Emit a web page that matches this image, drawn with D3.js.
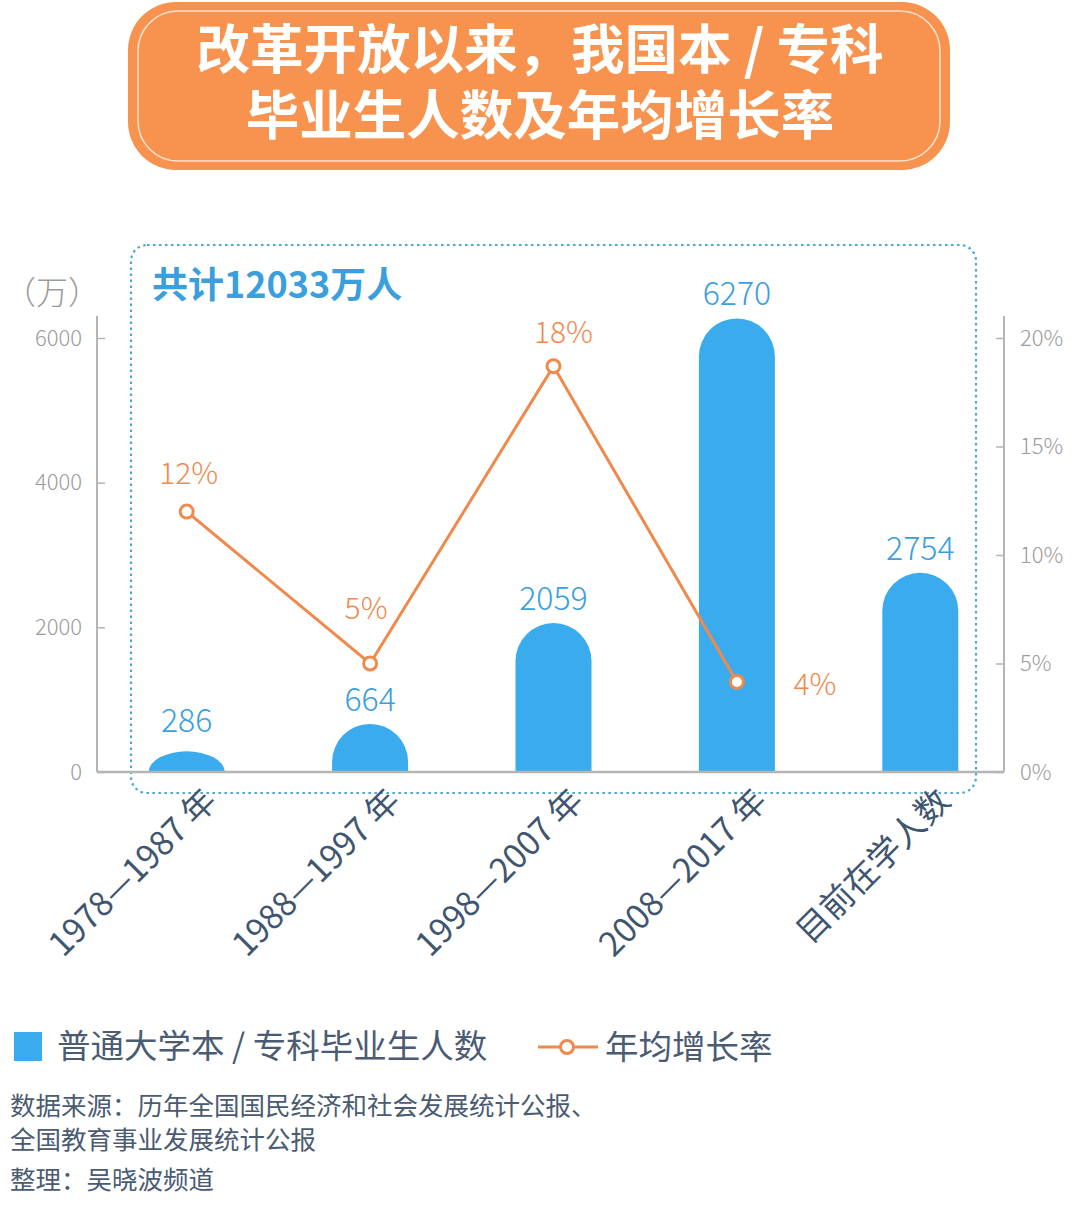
<!DOCTYPE html>
<html>
<head>
<meta charset="utf-8">
<script src="https://cdn.jsdelivr.net/npm/d3@7/dist/d3.min.js"></script>
<style>
  html, body { margin: 0; padding: 0; background: #ffffff; }
  svg { display: block; font-family: "Noto Sans CJK SC", "Noto Sans", sans-serif; }
</style>
</head>
<body>
<svg id="chart" width="1080" height="1206"></svg>
<script>
// ---- data ----
const categories = ["1978—1987 年", "1988—1997 年", "1998—2007 年", "2008—2017 年", "目前在学人数"];
const graduates = [286, 664, 2059, 6270, 2754];          // 万人
const growthRates = [12, 5, 18.7, 4.15];                  // % (plotted positions)
const growthLabels = ["12%", "5%", "18%", "4%"];
const leftTicks = [0, 2000, 4000, 6000];
const rightTicks = [0, 5, 10, 15, 20];
const titleLines = ["改革开放以来，我国本 / 专科", "毕业生人数及年均增长率"];
const totalLabel = "共计12033万人";
const unitLabel = "（万）";
const legendItems = ["普通大学本 / 专科毕业生人数", "年均增长率"];
const sourceLines = ["数据来源：历年全国国民经济和社会发展统计公报、", "全国教育事业发展统计公报", "整理：吴晓波频道"];

// ---- styles ----
const BLUE = "#3aacee";
const BLUE_TEXT = "#3a9fdc";
const ORANGE = "#f08a4c";
const GREY = "#b5b5b5";
const GREY_TEXT = "#9b9b9b";
const DARK = "#3f5670";

const svg = d3.select("#chart");

// ---- title box ----
const tg = svg.append("g");
tg.append("rect").attr("x", 128).attr("y", 2).attr("width", 822).attr("height", 168)
  .attr("rx", 48).attr("fill", "#f7934f");
tg.append("rect").attr("x", 138).attr("y", 11).attr("width", 802).attr("height", 150)
  .attr("rx", 40).attr("fill", "none").attr("stroke", "#fde3cf").attr("stroke-width", 1.5);
const titleText = tg.append("text")
  .attr("text-anchor", "middle")
  .attr("fill", "#ffffff").attr("font-size", 53.5).attr("font-weight", 700);
titleText.selectAll("tspan").data(titleLines).join("tspan")
  .attr("x", 540).attr("y", (d, i) => 69 + i * 66)
  .text(d => d);

// ---- scales ----
const y0 = 772, yTop = 338;
const x = d3.scalePoint().domain(categories).range([95, 1012]).padding(0.5);
const yL = d3.scaleLinear().domain([0, 6000]).range([y0, yTop]);
const yR = d3.scaleLinear().domain([0, 20]).range([y0, yTop]);
const barW = 76;

// ---- dotted frame ----
svg.append("rect").attr("x", 131).attr("y", 245).attr("width", 845).attr("height", 548)
  .attr("rx", 16).attr("fill", "none").attr("stroke", "#4ba6d8")
  .attr("stroke-width", 2.2).attr("stroke-dasharray", "2.5,3.5");

// ---- axes ----
const axL = svg.append("g").attr("transform", "translate(97,0)")
  .call(d3.axisRight(yL).tickValues(leftTicks).tickSize(8).tickFormat(d3.format("d")));
axL.select(".domain").remove();
axL.selectAll(".tick line").attr("stroke", GREY).attr("stroke-width", 1.5);
axL.selectAll(".tick text").attr("x", -15).attr("text-anchor", "end")
  .attr("fill", GREY_TEXT).attr("font-size", 22).attr("font-weight", 300)
  .attr("font-family", "'Noto Sans CJK SC', sans-serif");
svg.append("line").attr("x1", 97).attr("x2", 97).attr("y1", 316).attr("y2", y0)
  .attr("stroke", GREY).attr("stroke-width", 2);

const axR = svg.append("g").attr("transform", "translate(1004,0)")
  .call(d3.axisLeft(yR).tickValues(rightTicks).tickSize(8).tickFormat(d => d + "%"));
axR.select(".domain").remove();
axR.selectAll(".tick line").attr("stroke", GREY).attr("stroke-width", 1.5);
axR.selectAll(".tick text").attr("x", 16).attr("text-anchor", "start")
  .attr("fill", GREY_TEXT).attr("font-size", 22).attr("font-weight", 300)
  .attr("font-family", "'Noto Sans CJK SC', sans-serif");
svg.append("line").attr("x1", 1004).attr("x2", 1004).attr("y1", 316).attr("y2", y0)
  .attr("stroke", GREY).attr("stroke-width", 2);

// ---- bars ----
function barPath(cx, v) {
  const x0 = cx - barW / 2, x1 = cx + barW / 2, r = barW / 2;
  const top = yL(v), h = y0 - top;
  if (h <= r) {
    return `M${x0},${y0} A${r},${h} 0 0 1 ${x1},${y0} Z`;
  }
  return `M${x0},${y0} L${x0},${top + r} A${r},${r} 0 0 1 ${x1},${top + r} L${x1},${y0} Z`;
}
svg.append("g").selectAll("path").data(graduates).join("path")
  .attr("d", (d, i) => barPath(x(categories[i]), d))
  .attr("fill", BLUE);

// baseline
svg.append("line").attr("x1", 97).attr("x2", 1004).attr("y1", y0).attr("y2", y0)
  .attr("stroke", GREY).attr("stroke-width", 2.5);

// bar value labels
svg.append("g").selectAll("text").data(graduates).join("text")
  .attr("x", (d, i) => x(categories[i]))
  .attr("y", d => Math.min(yL(d), y0 - 27) - 13)
  .attr("text-anchor", "middle").attr("fill", BLUE_TEXT)
  .attr("font-size", 32).attr("font-weight", 300)
  .attr("font-family", "'Noto Sans CJK SC', sans-serif")
  .text(d => d);

// "万" unit and total label
svg.append("text").attr("x", 4).attr("y", 304).attr("fill", GREY_TEXT)
  .attr("font-size", 32).attr("font-weight", 300).text(unitLabel);
svg.append("text").attr("x", 152).attr("y", 298).attr("fill", BLUE_TEXT)
  .attr("font-size", 36).attr("font-weight", 700).text(totalLabel);

// ---- growth line ----
const lineData = growthRates.map((v, i) => ({ cx: x(categories[i]), v, label: growthLabels[i] }));
svg.append("path").datum(lineData)
  .attr("d", d3.line().x(d => d.cx).y(d => yR(d.v)))
  .attr("fill", "none").attr("stroke", ORANGE).attr("stroke-width", 3);
svg.append("g").selectAll("circle").data(lineData).join("circle")
  .attr("cx", d => d.cx).attr("cy", d => yR(d.v)).attr("r", 6.5)
  .attr("fill", "#ffffff").attr("stroke", ORANGE).attr("stroke-width", 3);
const labelOffsets = [[2, -28], [-4, -45], [10, -23], [78, 13]];
svg.append("g").selectAll("text").data(lineData).join("text")
  .attr("x", (d, i) => d.cx + labelOffsets[i][0])
  .attr("y", (d, i) => yR(d.v) + labelOffsets[i][1])
  .attr("text-anchor", "middle").attr("fill", ORANGE)
  .attr("font-size", 30).attr("font-weight", 300)
  .attr("font-family", "'Noto Sans CJK SC', sans-serif")
  .text(d => d.label);

// ---- category labels ----
svg.append("g").selectAll("text").data(categories).join("text")
  .attr("transform", d => `translate(${x(d) + 32},${803}) rotate(-45)`)
  .attr("text-anchor", "end").attr("fill", DARK)
  .attr("font-size", 33.5).attr("font-weight", 400)
  .text(d => d);

// ---- legend ----
const lg = svg.append("g");
lg.append("rect").attr("x", 14).attr("y", 1032).attr("width", 28).attr("height", 29).attr("fill", BLUE);
lg.append("text").attr("x", 57).attr("y", 1058).attr("fill", "#4a5b72")
  .attr("font-size", 33.5).text(legendItems[0]);
lg.append("line").attr("x1", 538).attr("x2", 598).attr("y1", 1047).attr("y2", 1047)
  .attr("stroke", ORANGE).attr("stroke-width", 3);
lg.append("circle").attr("cx", 567).attr("cy", 1047).attr("r", 6.5)
  .attr("fill", "#fff").attr("stroke", ORANGE).attr("stroke-width", 3);
lg.append("text").attr("x", 605).attr("y", 1059).attr("fill", "#4a5b72")
  .attr("font-size", 33.5).text(legendItems[1]);

// ---- source ----
svg.append("g").selectAll("text").data(sourceLines).join("text")
  .attr("x", 10).attr("y", (d, i) => [1115, 1149, 1189][i])
  .attr("fill", "#4a5b72").attr("font-size", 25.5).text(d => d);
</script>
</body>
</html>
